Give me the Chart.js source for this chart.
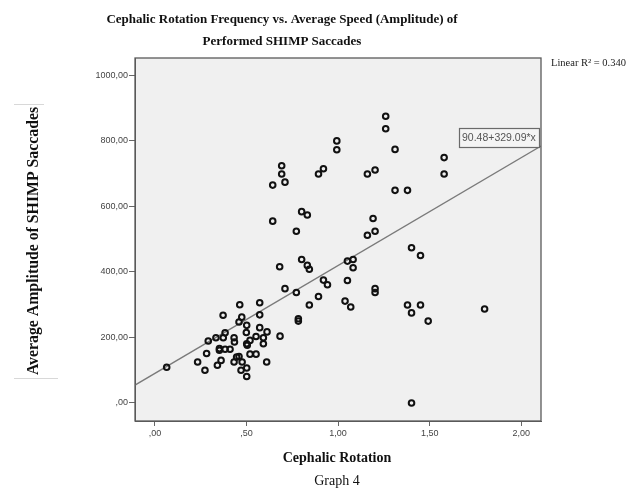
<!DOCTYPE html>
<html><head><meta charset="utf-8">
<script src="https://cdn.jsdelivr.net/npm/chart.js@4.4.0/dist/chart.umd.min.js"></script>
<style>html,body{margin:0;padding:0;background:#fff;}#wrap{width:636px;height:490px;}</style>
</head><body><div id="wrap"><canvas id="c" width="636" height="490"></canvas></div>
<script>
const titleLines = ["Cephalic Rotation Frequency vs. Average Speed (Amplitude) of", "Performed SHIMP Saccades"];
const xTitle = "Cephalic Rotation";
const yTitle = "Average Amplitude of SHIMP Saccades";
const caption = "Graph 4";
const fitLabel = "90.48+329.09*x";
const r2Label = "Linear R² = 0.340";
const intercept = 90.48;
const slope = 329.09;
const xTicks = [0, 0.5, 1.0, 1.5, 2.0];
const yTicks = [0, 200, 400, 600, 800, 1000];
const rotation = [1.26,1.26,0.993,0.993,1.311,1.579,1.579,0.692,0.692,0.710,0.643,0.893,0.920,1.160,1.202,1.311,1.379,0.801,0.832,0.643,0.772,1.191,1.160,1.202,1.401,1.450,0.681,0.801,0.832,0.843,1.051,1.082,1.082,1.051,0.920,0.942,0.710,0.772,1.202,1.202,0.893,0.843,1.038,1.069,1.379,1.450,1.401,1.492,1.800,0.783,0.783,1.401,0.064,
0.463,0.572,0.372,0.474,0.572,0.459,0.501,0.572,0.612,0.499,0.383,0.333,0.373,0.432,0.291,0.434,0.552,0.592,0.683,0.519,0.501,0.504,0.592,0.352,0.352,0.383,0.410,0.282,0.519,0.552,0.446,0.459,0.233,0.361,0.341,0.432,0.476,0.610,0.273,0.470,0.501,0.501];
const amplitude = [875,837,800,773,774,749,699,724,699,674,665,699,715,699,711,649,649,584,574,555,524,563,512,524,474,450,416,438,420,408,433,438,413,374,375,361,349,337,349,337,325,299,311,293,299,299,275,250,287,257,250,0,109,
300,306,268,262,269,247,237,230,217,215,214,199,199,199,189,186,203,199,204,191,181,176,181,166,161,164,164,151,149,149,140,142,125,130,115,125,125,125,100,100,107,81];

const points = rotation.map((x, i) => ({x: x, y: amplitude[i]}));
const X_MIN = -0.109, X_MAX = 2.108, Y_MIN = -55, Y_MAX = 1053;
const fitLine = [X_MIN, X_MAX].map(x => ({x: x, y: intercept + slope * x}));
const fmt = v => { const s = v.toFixed(2).replace('.', ','); return s.startsWith('0,') ? s.slice(1) : s; };

const decor = {
  id: 'decor',
  beforeDraw(chart) {
    const {ctx, chartArea: a} = chart;
    ctx.save();
    ctx.fillStyle = '#f0f0f0';
    ctx.fillRect(a.left, a.top, a.right - a.left, a.bottom - a.top);
    ctx.restore();
  },
  afterDraw(chart) {
    const {ctx, chartArea: a} = chart;
    ctx.save();
    ctx.strokeStyle = '#5a5a5a'; ctx.lineWidth = 1.3;
    ctx.strokeRect(a.left, a.top, a.right - a.left, a.bottom - a.top);
    // title
    ctx.fillStyle = '#111'; ctx.textAlign = 'center'; ctx.textBaseline = 'middle';
    ctx.font = 'bold 13px "Liberation Serif", "Times New Roman", serif';
    ctx.fillText(titleLines[0], 282, 20);
    ctx.fillText(titleLines[1], 282, 42);
    // x title
    ctx.font = 'bold 14px "Liberation Serif", serif';
    ctx.fillText(xTitle, 337, 458);
    ctx.font = '14px "Liberation Serif", serif';
    ctx.fillText(caption, 337, 481);
    // y title
    ctx.save();
    ctx.translate(34, 241); ctx.rotate(-Math.PI / 2);
    ctx.font = 'bold 15.8px "Liberation Serif", serif';
    ctx.fillText(yTitle, 0, 0);
    ctx.restore();
    ctx.strokeStyle = '#d8d8d8'; ctx.lineWidth = 1;
    ctx.beginPath(); ctx.moveTo(14, 104.5); ctx.lineTo(44, 104.5); ctx.moveTo(14, 378.5); ctx.lineTo(58, 378.5); ctx.stroke();
    // R2 label
    ctx.textAlign = 'left'; ctx.fillStyle = '#222';
    ctx.font = '10.5px "Liberation Serif", serif';
    ctx.fillText(r2Label, 551, 63);
    // fit label box
    const bx = 459, by = 128, bw = 80, bh = 19;
    ctx.fillStyle = '#f4f4f4'; ctx.fillRect(bx, by, bw, bh);
    ctx.strokeStyle = '#6a6a6a'; ctx.lineWidth = 1.2; ctx.strokeRect(bx + 0.5, by + 0.5, bw, bh);
    ctx.fillStyle = '#555'; ctx.font = '10.5px "Liberation Sans", Arial, sans-serif';
    ctx.fillText(fitLabel, bx + 3, by + bh / 2 + 1);
    ctx.restore();
  }
};

new Chart(document.getElementById('c'), {
  data: {
    datasets: [
      {type: 'line', data: fitLine, borderColor: '#7a7a7a', borderWidth: 1.3, pointRadius: 0, fill: false, order: 2},
      {type: 'scatter', data: points, pointStyle: 'circle', pointRadius: 2.8, pointBorderWidth: 2,
       pointBorderColor: '#111', pointBackgroundColor: 'rgba(0,0,0,0)', order: 1}
    ]
  },
  options: {
    responsive: false, animation: false, devicePixelRatio: 1,
    layout: {padding: {left: 0, right: 95, top: 58, bottom: 0}},
    plugins: {legend: {display: false}, title: {display: false}, tooltip: {enabled: false}},
    scales: {
      x: {type: 'linear', min: X_MIN, max: X_MAX,
        afterBuildTicks: s => { s.ticks = xTicks.map(v => ({value: v})); },
        afterFit: s => { s.height = 69; },
        grid: {drawOnChartArea: false, drawTicks: true, tickLength: 5, color: '#666'},
        border: {display: true, color: '#5a5a5a'},
        ticks: {callback: v => fmt(v), color: '#444', padding: 2, maxRotation: 0,
          font: {family: '"Liberation Sans", Arial, sans-serif', size: 9}}},
      y: {type: 'linear', min: Y_MIN, max: Y_MAX,
        afterBuildTicks: s => { s.ticks = yTicks.map(v => ({value: v})); },
        afterFit: s => { s.width = 135; },
        grid: {drawOnChartArea: false, drawTicks: true, tickLength: 6, color: '#666'},
        border: {display: true, color: '#5a5a5a'},
        ticks: {callback: v => fmt(v), color: '#444', padding: 1,
          font: {family: '"Liberation Sans", Arial, sans-serif', size: 9}}}
    }
  },
  plugins: [decor]
});
</script></body></html>
